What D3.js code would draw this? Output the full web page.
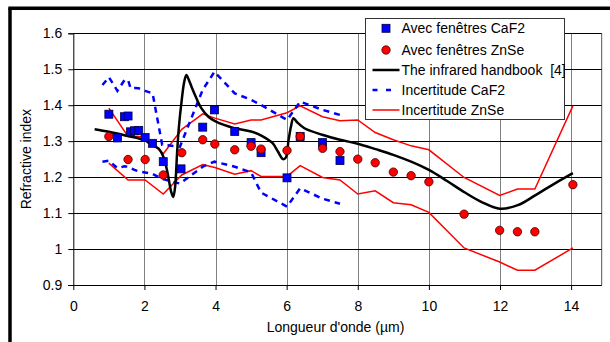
<!DOCTYPE html>
<html><head><meta charset="utf-8">
<script src="https://cdn.jsdelivr.net/npm/d3@7"></script>
<style>body{margin:0;background:#fff}svg{display:block}text{font-family:"Liberation Sans",Arial,sans-serif;fill:#000;white-space:pre}</style>
</head><body><svg id="c" width="610" height="342"></svg>
<script>
// ---- data ----
const xTicks = [0, 2, 4, 6, 8, 10, 12, 14];
const yTicks = [0.9, 1, 1.1, 1.2, 1.3, 1.4, 1.5, 1.6];
const yTickLabels = ["0.9", "1", "1.1", "1.2", "1.3", "1.4", "1.5", "1.6"];

const caf2X = [1.0, 1.24, 1.44, 1.54, 1.61, 1.72, 1.84, 2.02, 2.23, 2.53, 3.03, 3.64, 3.97, 4.54, 5.0, 5.28, 6.01, 6.38, 7.01, 7.5];
const caf2N = [1.375, 1.309, 1.368, 1.370, 1.326, 1.329, 1.330, 1.310, 1.294, 1.243, 1.223, 1.339, 1.387, 1.327, 1.296, 1.268, 1.198, 1.313, 1.296, 1.246];

const znseX = [1.0, 1.54, 2.02, 2.53, 3.05, 3.64, 3.98, 4.54, 5.0, 5.28, 6.01, 6.38, 7.01, 7.5, 8.0, 8.49, 9.0, 9.5, 10.0, 10.99, 11.99, 12.49, 12.98, 14.05];
const znseN = [1.313, 1.249, 1.249, 1.206, 1.268, 1.304, 1.292, 1.276, 1.286, 1.278, 1.274, 1.313, 1.280, 1.271, 1.250, 1.240, 1.214, 1.204, 1.187, 1.097, 1.052, 1.048, 1.048, 1.179];

const handbookX = [0.6, 1.0, 1.5, 2.0, 2.2, 2.4, 2.55, 2.67, 2.75, 2.81, 2.86, 2.92, 2.97, 3.05, 3.12, 3.18, 3.25, 3.35, 3.45, 3.6, 3.8, 4.0, 4.5, 5.0, 5.3, 5.6, 5.75, 5.9, 5.98, 6.05, 6.12, 6.19, 6.3, 6.5, 7.0, 7.5, 8.0, 8.5, 9.0, 9.5, 10.0, 10.5, 11.0, 11.5, 12.0, 12.5, 13.0, 13.5, 14.05];
const handbookN = [1.333, 1.326, 1.315, 1.303, 1.290, 1.279, 1.252, 1.202, 1.160, 1.145, 1.170, 1.270, 1.340, 1.415, 1.465, 1.484, 1.470, 1.445, 1.422, 1.392, 1.368, 1.355, 1.337, 1.327, 1.315, 1.295, 1.272, 1.250, 1.255, 1.300, 1.340, 1.364, 1.352, 1.336, 1.318, 1.304, 1.293, 1.278, 1.262, 1.243, 1.220, 1.190, 1.158, 1.130, 1.112, 1.122, 1.150, 1.180, 1.211];

const caf2UncX = [0.82, 1.0, 1.24, 1.44, 1.54, 1.61, 1.72, 1.84, 2.02, 2.23, 2.5, 3.0, 3.64, 3.97, 4.54, 5.0, 5.28, 6.01, 6.38, 7.01, 7.5];
const caf2Upper = [1.456, 1.478, 1.440, 1.470, 1.470, 1.447, 1.448, 1.447, 1.440, 1.433, 1.290, 1.285, 1.443, 1.493, 1.433, 1.415, 1.401, 1.359, 1.410, 1.387, 1.373];
const caf2Lower = [1.243, 1.246, 1.225, 1.230, 1.229, 1.225, 1.220, 1.216, 1.213, 1.209, 1.195, 1.182, 1.229, 1.243, 1.229, 1.213, 1.157, 1.118, 1.169, 1.140, 1.126];

const znseUpper = [1.392, 1.313, 1.313, 1.265, 1.333, 1.376, 1.364, 1.348, 1.359, 1.359, 1.379, 1.398, 1.368, 1.357, 1.359, 1.324, 1.304, 1.287, 1.276, 1.199, 1.149, 1.167, 1.167, 1.398];
const znseLower = [1.239, 1.192, 1.192, 1.153, 1.206, 1.235, 1.227, 1.208, 1.218, 1.202, 1.202, 1.232, 1.199, 1.192, 1.153, 1.162, 1.129, 1.123, 1.102, 1.003, 0.964, 0.941, 0.941, 1.003];

const legendLabels = ["Avec fenêtres CaF2", "Avec fenêtres ZnSe", "The infrared handbook  [4]", "Incertitude CaF2", "Incertitude ZnSe"];
const xTitle = "Longueur d'onde (µm)";
const yTitle = "Refractive index";

// ---- drawing ----
const svg = d3.select("#c");
const L = 73.3, R = 601.7, T = 33.3, B = 285;
const x = d3.scaleLinear().domain([0, 14.86]).range([L, R]);
const y = d3.scaleLinear().domain([0.9, 1.6]).range([B, T]);

// outer frame (thick)
svg.append("line").attr("x1", 10).attr("x2", 10).attr("y1", 8.3).attr("y2", 342).attr("stroke", "#000").attr("stroke-width", 3.5);
svg.append("line").attr("x1", 8.3).attr("x2", 610).attr("y1", 8.3).attr("y2", 8.3).attr("stroke", "#000").attr("stroke-width", 3.5);

// vertical gridlines
svg.append("g").selectAll("line").data(xTicks.filter(d => d > 0)).join("line")
  .attr("x1", d => Math.round(x(d)) + 0.5).attr("x2", d => Math.round(x(d)) + 0.5)
  .attr("y1", T).attr("y2", B).attr("stroke", "#808080").attr("stroke-width", 1);
// right border
svg.append("line").attr("x1", R).attr("x2", R).attr("y1", T).attr("y2", B).attr("stroke", "#555").attr("stroke-width", 1);
// horizontal gridlines
svg.append("g").selectAll("line").data(yTicks).join("line")
  .attr("x1", L).attr("x2", R)
  .attr("y1", d => Math.round(y(d)) + 0.5).attr("y2", d => Math.round(y(d)) + 0.5)
  .attr("stroke", "#000").attr("stroke-width", 1);

// axes
const yAxis = d3.axisLeft(y).tickValues(yTicks).tickSize(5).tickPadding(6).tickFormat((d, i) => yTickLabels[i]);
const gy = svg.append("g").attr("transform", `translate(${L},0)`).call(yAxis);
const xAxis = d3.axisBottom(x).tickValues(xTicks).tickSize(5).tickPadding(11).tickFormat(d3.format("d"));
const gx = svg.append("g").attr("transform", `translate(0,${B})`).call(xAxis);
[gx, gy].forEach(g => {
  g.select(".domain").attr("stroke", "#000").attr("stroke-width", 1);
  g.selectAll(".tick line").attr("stroke", "#000");
  g.selectAll("text").attr("font-size", 14).attr("font-family", "Liberation Sans, Arial, sans-serif").attr("fill", "#000");
});
gx.select(".domain").attr("d", `M${L},0.5H${R}`);

// titles
svg.append("text").attr("x", (L + R) / 2 - 2).attr("y", 332).attr("text-anchor", "middle").attr("font-size", 14).text(xTitle);
svg.append("text").attr("transform", `translate(31,${(T + B) / 2}) rotate(-90)`).attr("text-anchor", "middle").attr("font-size", 14).text(yTitle);

// lines
const line = d3.line().x(d => x(d[0])).y(d => y(d[1]));
const pairs = (xs, ys) => xs.map((v, i) => [v, ys[i]]);

svg.append("path").datum(pairs(znseX, znseUpper)).attr("d", line).attr("fill", "none").attr("stroke", "#ff0000").attr("stroke-width", 1.5);
svg.append("path").datum(pairs(znseX, znseLower)).attr("d", line).attr("fill", "none").attr("stroke", "#ff0000").attr("stroke-width", 1.5);
svg.append("path").datum(pairs(caf2UncX, caf2Upper)).attr("d", line).attr("fill", "none").attr("stroke", "#0000ff").attr("stroke-width", 2.5).attr("stroke-dasharray", "6,5");
svg.append("path").datum(pairs(caf2UncX, caf2Lower)).attr("d", line).attr("fill", "none").attr("stroke", "#0000ff").attr("stroke-width", 2.5).attr("stroke-dasharray", "6,5");
svg.append("path").datum(pairs(handbookX, handbookN)).attr("d", line.curve(d3.curveCatmullRom.alpha(0.5))).attr("fill", "none").attr("stroke", "#000").attr("stroke-width", 2.5);

// markers
svg.append("g").selectAll("rect").data(pairs(caf2X, caf2N)).join("rect")
  .attr("x", d => x(d[0]) - 4).attr("y", d => y(d[1]) - 4).attr("width", 8).attr("height", 8)
  .attr("fill", "#0000ff").attr("stroke", "#000040").attr("stroke-width", 0.8);
svg.append("g").selectAll("circle").data(pairs(znseX, znseN)).join("circle")
  .attr("cx", d => x(d[0])).attr("cy", d => y(d[1])).attr("r", 4.2)
  .attr("fill", "#ff0000").attr("stroke", "#400000").attr("stroke-width", 0.8);

// legend
const lg = svg.append("g");
lg.append("rect").attr("x", 365.5).attr("y", 18.5).attr("width", 199).attr("height", 101).attr("fill", "#fff").attr("stroke", "#333").attr("stroke-width", 1);
const rowY = [28.3, 50, 70, 90, 110];
legendLabels.forEach((t, i) => {
  lg.append("text").attr("x", 401.5).attr("y", rowY[i]).attr("dy", "0.35em").attr("font-size", 14).text(t);
});
lg.append("rect").attr("x", 382).attr("y", rowY[0] - 4).attr("width", 8).attr("height", 8).attr("fill", "#0000ff").attr("stroke", "#000040").attr("stroke-width", 0.8);
lg.append("circle").attr("cx", 386).attr("cy", rowY[1]).attr("r", 4.2).attr("fill", "#ff0000").attr("stroke", "#400000").attr("stroke-width", 0.8);
lg.append("line").attr("x1", 372.5).attr("x2", 399.5).attr("y1", rowY[2]).attr("y2", rowY[2]).attr("stroke", "#000").attr("stroke-width", 2.5);
lg.append("line").attr("x1", 372.5).attr("x2", 399.5).attr("y1", rowY[3]).attr("y2", rowY[3]).attr("stroke", "#0000ff").attr("stroke-width", 2.5).attr("stroke-dasharray", "5,8.5");
lg.append("line").attr("x1", 372.5).attr("x2", 399.5).attr("y1", rowY[4]).attr("y2", rowY[4]).attr("stroke", "#ff0000").attr("stroke-width", 1.5);
</script></body></html>
